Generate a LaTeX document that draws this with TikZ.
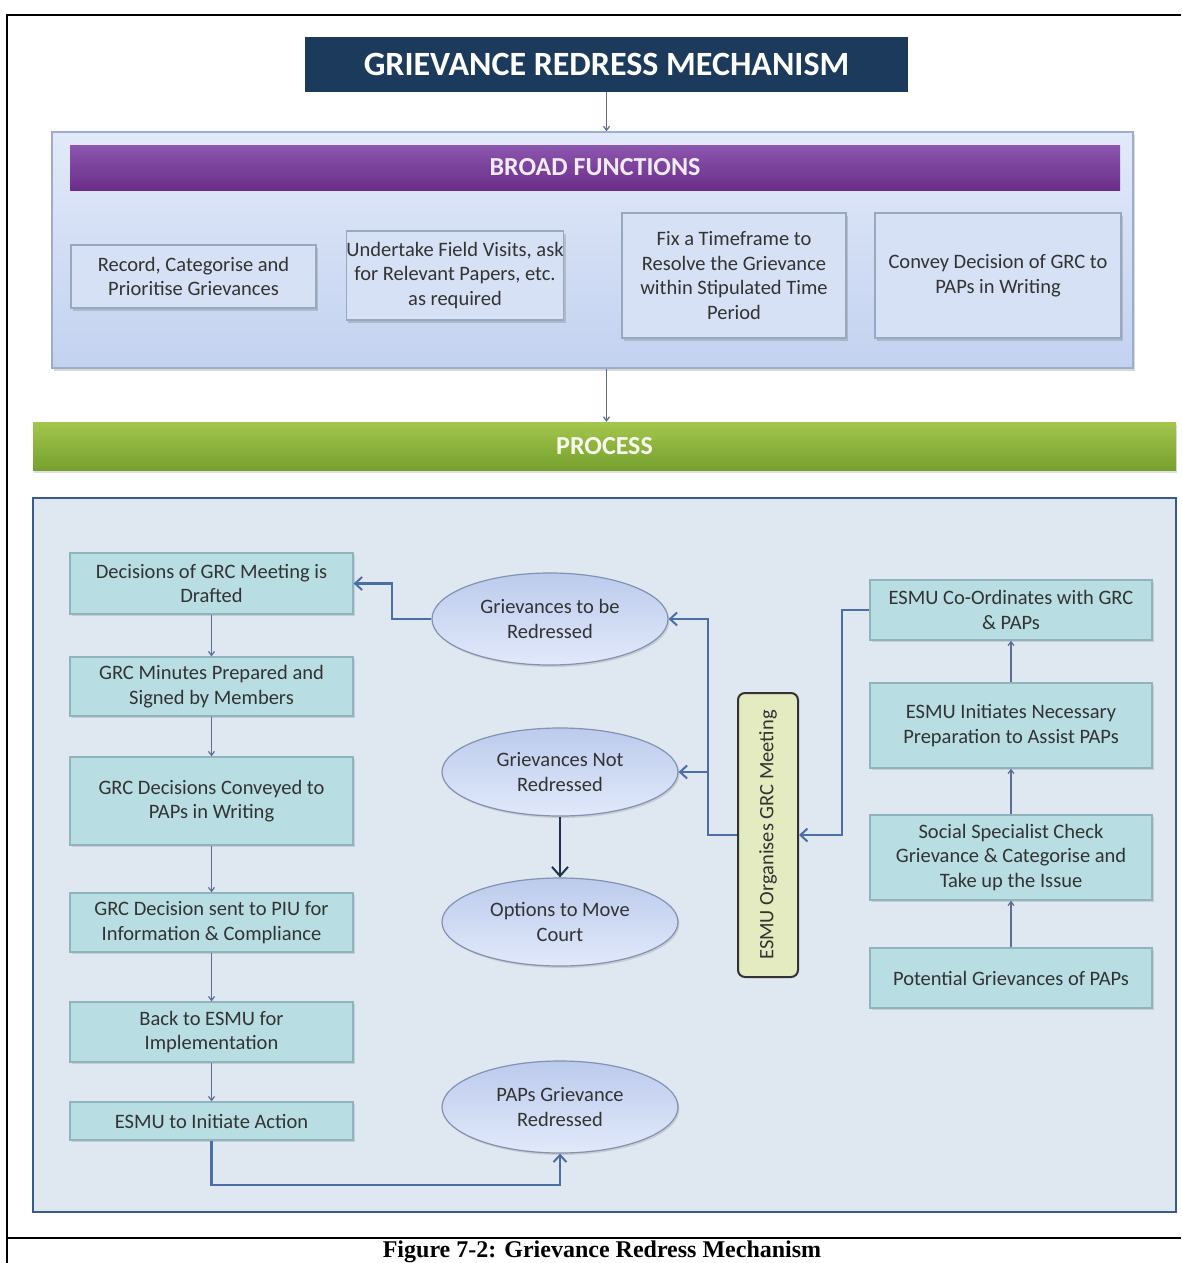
\documentclass[tikz,border=0pt]{standalone}
\usepackage{fontspec}
\setmainfont{Liberation Serif}
\newfontfamily\calfont{Carlito}
\usetikzlibrary{arrows.meta,shapes.geometric,shadows}
\definecolor{navy}{HTML}{1B3A5C}
\definecolor{purpA}{HTML}{8C56AE}
\definecolor{purpB}{HTML}{6A2E8A}
\definecolor{greenA}{HTML}{A4C64C}
\definecolor{greenB}{HTML}{76A02E}
\definecolor{contA}{HTML}{E2E9F9}
\definecolor{contB}{HTML}{C3D2F0}
\definecolor{contLine}{HTML}{9CAECB}
\definecolor{funFill}{HTML}{D6E1F5}
\definecolor{boxLine}{HTML}{97A9BF}
\definecolor{procFill}{HTML}{DFE7F1}
\definecolor{procLine}{HTML}{3A5A8C}
\definecolor{teal}{HTML}{B8DDE3}
\definecolor{tealLine}{HTML}{90B4BE}
\definecolor{ellA}{HTML}{BCCBED}
\definecolor{ellB}{HTML}{E1E9FA}
\definecolor{ellLine}{HTML}{8391B2}
\definecolor{yel}{HTML}{E4EBC0}
\definecolor{conn}{HTML}{4A6FA8}
\definecolor{thin}{HTML}{5E6C98}
\definecolor{txt}{HTML}{333333}
\tikzset{
  boxfont/.style={font=\calfont\fontsize{20.5}{24.5}\selectfont},
  funbox/.style={draw=boxLine, line width=1.2pt, fill=funFill, align=center,
    text=txt, boxfont, inner sep=0pt,
    drop shadow={opacity=0.35, shadow xshift=2pt, shadow yshift=-3pt}},
  tealbox/.style={draw=tealLine, line width=1.2pt, fill=teal, align=center,
    text=txt, boxfont, minimum width=283pt, inner sep=0pt,
    drop shadow={opacity=0.25, shadow xshift=1.5pt, shadow yshift=-2pt}},
  ellbox/.style={ellipse, draw=ellLine, line width=1.2pt, top color=ellA, bottom color=ellB,
    align=center, text=txt, boxfont,
    minimum width=236pt, inner sep=0pt,
    drop shadow={opacity=0.25, shadow xshift=1.5pt, shadow yshift=-2pt}},
  connline/.style={draw=conn, line width=2.4pt, -{Straight Barb[length=7pt,width=13pt,line width=2pt]}},
  thinarrow/.style={draw=thin, line width=1.2pt, -{Straight Barb[length=4pt,width=6pt]}},
}
\begin{document}
\begin{tikzpicture}[x=1pt,y=-1pt]
\useasboundingbox (0,0) rectangle (1181,1263);
\fill[white] (0,0) rectangle (1181,1263);

% outer frame
\draw[line width=2.5pt] (7,1263) -- (7,15) -- (1181,15);
\draw[line width=2.5pt] (7,1238) -- (1181,1238);

% title
\node[fill=navy, minimum width=603pt, minimum height=55pt, inner sep=0pt,
  text=white, font=\calfont\bfseries\fontsize{34}{38}\selectfont] (title) at (606.5,64.5) {GRIEVANCE REDRESS MECHANISM};

% broad functions container
\node[draw=contLine, line width=1.5pt, top color=contA, bottom color=contB,
  minimum width=1081pt, minimum height=236pt, inner sep=0pt,
  drop shadow={opacity=0.3, shadow xshift=2pt, shadow yshift=-3pt}] (broad) at (592.5,250) {};
\node[top color=purpA, bottom color=purpB, minimum width=1050pt, minimum height=45pt, inner sep=0pt,
  text={white!88!purpA}, font=\calfont\bfseries\fontsize{26}{28}\selectfont] (bf) at (595,167.5) {BROAD FUNCTIONS};

\node[funbox, minimum width=245pt, minimum height=63pt] (f1) at (193.5,276.5) {Record, Categorise and\\Prioritise Grievances};
\node[funbox, minimum width=214pt, minimum height=89pt] (f2) at (455,275.5) {Undertake Field Visits, ask\\for Relevant Papers, etc.\\as required};
\node[funbox, minimum width=224pt, minimum height=125pt] (f3) at (734,275.5) {Fix a Timeframe to\\Resolve the Grievance\\within Stipulated Time\\Period};
\node[funbox, minimum width=246pt, minimum height=125pt] (f4) at (998,275.5) {Convey Decision of GRC to\\PAPs in Writing};

% process banner
\node[top color=greenA, bottom color=greenB, minimum width=1143pt, minimum height=48pt, inner sep=0pt,
  text={white!92!greenA}, font=\calfont\bfseries\fontsize{26}{28}\selectfont,
  drop shadow={opacity=0.25, shadow xshift=1pt, shadow yshift=-3pt}] (proc) at (604.5,446) {PROCESS};

% connectors top
\draw[thinarrow] (title.south) -- (title.south |- broad.north);
\draw[thinarrow] (title.south |- broad.south) -- (title.south |- proc.north);

% process container
\node[draw=procLine, line width=2pt, fill=procFill, minimum width=1143pt, minimum height=714pt, inner sep=0pt] (pc) at (604.5,855) {};

% left column
\node[tealbox, minimum height=61pt] (l1) at (211.5,583.5) {Decisions of GRC Meeting is\\Drafted};
\node[tealbox, minimum height=59pt] (l2) at (211.5,686.5) {GRC Minutes Prepared and\\Signed by Members};
\node[tealbox, minimum height=88pt] (l3) at (211.5,801) {GRC Decisions Conveyed to\\PAPs in Writing};
\node[tealbox, minimum height=59pt] (l4) at (211.5,922.5) {GRC Decision sent to PIU for\\Information \& Compliance};
\node[tealbox, minimum height=60pt] (l5) at (211.5,1032) {Back to ESMU for\\Implementation};
\node[tealbox, minimum height=38pt] (l6) at (211.5,1121) {ESMU to Initiate Action};

\draw[thinarrow] (l1.south) -- (l2.north);
\draw[thinarrow] (l2.south) -- (l3.north);
\draw[thinarrow] (l3.south) -- (l4.north);
\draw[thinarrow] (l4.south) -- (l5.north);
\draw[thinarrow] (l5.south) -- (l6.north);

% ellipses
\node[ellbox, minimum height=92pt] (e1) at (550,619) {Grievances to be\\Redressed};
\node[ellbox, minimum height=88pt] (e2) at (560,772) {Grievances Not\\Redressed};
\node[ellbox, minimum height=88pt] (e3) at (560,922) {Options to Move\\Court};
\node[ellbox, minimum height=92pt] (e4) at (560,1107) {PAPs Grievance\\Redressed};

% ESMU meeting
\node[draw={black!80}, line width=2pt, fill=yel, rounded corners=7pt, rotate=90,
  minimum width=284pt, minimum height=60pt, inner sep=0pt, text=txt,
  font=\calfont\fontsize{20.5}{22}\selectfont] (esmu) at (768,835) {ESMU Organises GRC Meeting};

% right column
\node[tealbox, minimum width=282pt, minimum height=60pt] (r1) at (1011,610) {ESMU Co-Ordinates with GRC\\\& PAPs};
\node[tealbox, minimum width=282pt, minimum height=85pt] (r2) at (1011,725.5) {ESMU Initiates Necessary\\Preparation to Assist PAPs};
\node[tealbox, minimum width=282pt, minimum height=85pt] (r3) at (1011,857.5) {Social Specialist Check\\Grievance \& Categorise and\\Take up the Issue};
\node[tealbox, minimum width=282pt, minimum height=60pt] (r4) at (1011,978) {Potential Grievances of PAPs};

\draw[thinarrow] (r4.north) -- (r3.south);
\draw[thinarrow] (r3.north) -- (r2.south);
\draw[thinarrow] (r2.north) -- (r1.south);

% blue connectors
\coordinate (jr) at (842,610);
\coordinate (jl) at (708,835);
\coordinate (je) at (392,619);
\coordinate (jb) at (211.5,1185);
\draw[connline] (r1.west) -- (jr) |- (esmu);
\draw[connline] (esmu) -- (jl) |- (e1);
\draw[connline] (jl |- e2) -- (e2);
\draw[connline] (e1) -- (je) |- (l1);
\draw[connline] (l6.south) -- (jb) -| (e4.south);
\draw[draw={black!55!conn}, line width=2.4pt, -{Straight Barb[length=9pt,width=16pt,line width=2pt]}] (e2) -- (e3);

% caption
\node[anchor=base, inner sep=0pt, font=\bfseries\fontsize{24}{26}\selectfont] (cap) at (602,1257) {Figure 7-2: Grievance Redress Mechanism};
\end{tikzpicture}
\end{document}
